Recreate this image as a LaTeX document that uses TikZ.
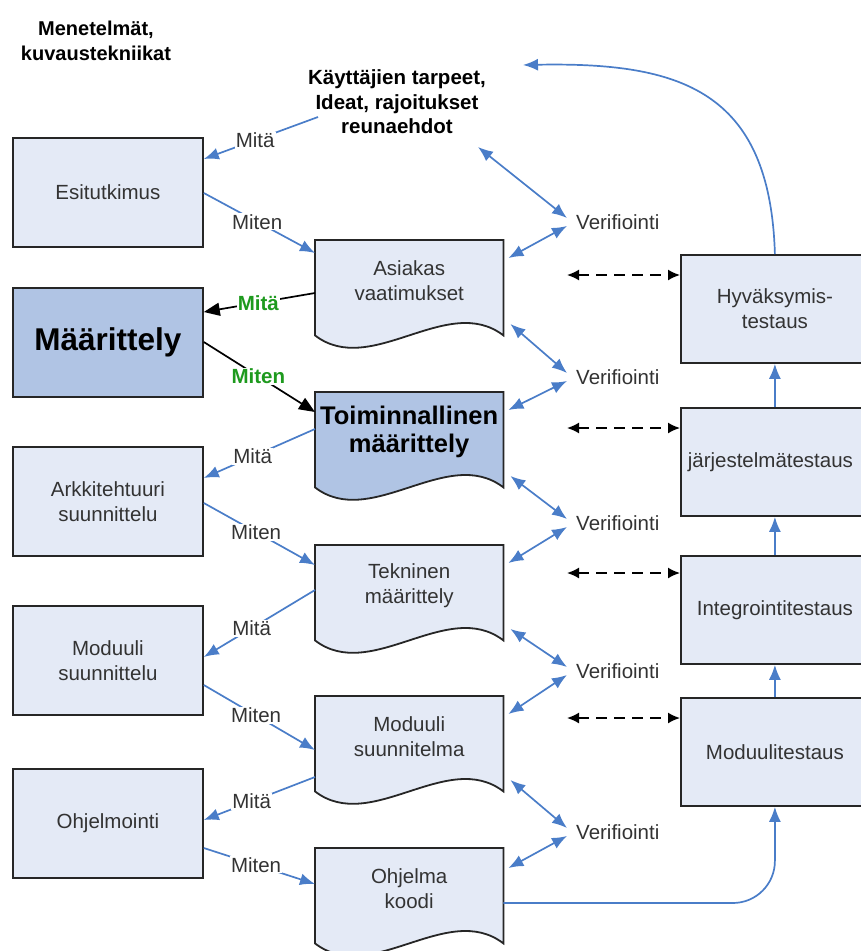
\documentclass[tikz,border=0pt]{standalone}
\usepackage{fontspec}
\setmainfont{Liberation Sans}
\usetikzlibrary{arrows.meta,calc,backgrounds}

\definecolor{boxfill}{HTML}{E4EAF6}
\definecolor{boxdark}{HTML}{B0C4E4}
\definecolor{flowblue}{HTML}{4A7DC8}
\definecolor{labelgreen}{HTML}{1E9A1E}
\definecolor{edge}{HTML}{262626}
\definecolor{txt}{HTML}{333333}

\newcommand\bodyfont{\fontsize{20.5}{25}\selectfont}

% outline of a "document" symbol hung below a named node
\newcommand\docoutline[2][boxfill]{%
  \path[docline, fill=#1] (#2.north west) -- (#2.north east)
    -- ($(#2.south east)+(0,15)$)
    .. controls ($(#2.south east)+(-56,-28)$) and ($(#2.south west)+(56,58)$)
    .. ($(#2.south west)+(0,15)$) -- cycle;}

\tikzset{
  phase/.style={draw=edge, line width=1.8pt, fill=boxfill, minimum width=190pt,
    minimum height=109pt, anchor=north west, inner sep=0pt, align=center,
    text=txt, font=\bodyfont},
  testbox/.style={phase, minimum width=188pt, minimum height=108pt},
  docbox/.style={minimum width=188pt, minimum height=80pt, anchor=north west,
    inner sep=0pt, align=center, text=txt, font=\bodyfont},
  docline/.style={draw=edge, line width=1.8pt},
  how/.style={draw=flowblue, line width=1.7pt, -{Latex[length=15pt,width=12pt]}},
  strong/.style={draw=black, line width=1.7pt, -{Triangle[length=16pt,width=13pt]}},
  howlabel/.style={fill=white, inner sep=1pt, text=txt, font=\bodyfont},
  greenlabel/.style={fill=white, inner sep=1pt, text=labelgreen, font=\bodyfont\bfseries},
  verif/.style={draw=flowblue, line width=1.7pt,
    {Latex[length=15pt,width=12pt]}-{Latex[length=15pt,width=12pt]}},
  verlabel/.style={anchor=west, inner sep=0pt, text=txt, font=\bodyfont},
  trace/.style={draw=black, line width=1.7pt, dash pattern=on 11pt off 7pt,
    {Latex[length=12pt,width=11pt]}-{Latex[length=12pt,width=11pt]}},
}

\begin{document}
\begin{tikzpicture}[x=1pt, y=-1pt]
\useasboundingbox (0,0) rectangle (861,951);

% headings
\node[align=center, font=\fontsize{20}{25.5}\selectfont\bfseries] (methods) at (96,41)
  {Menetelmät,\\kuvaustekniikat};
\node[align=center, font=\fontsize{20.5}{24.5}\selectfont\bfseries] (needs) at (397,102)
  {Käyttäjien tarpeet,\\Ideat, rajoitukset\\reunaehdot};

% design phases (left column)
\node[phase] (esi) at (12,137) {Esitutkimus};
\node[phase, fill=boxdark, text=black, font=\fontsize{31.5}{36}\selectfont\bfseries] (maar) at (12,287) {Määrittely};
\node[phase] (arkk) at (12,446) {Arkkitehtuuri\\suunnittelu};
\node[phase] (modsuun) at (12,605) {Moduuli\\suunnittelu};
\node[phase] (ohj) at (12,768) {Ohjelmointi};

% documents (middle column)
\node[docbox] (asiakas) at (315,240) {Asiakas\\vaatimukset};
\node[docbox, text=black, font=\fontsize{25.5}{28}\selectfont\bfseries] (toim) at (315,392) {Toiminnallinen\\määrittely};
\node[docbox] (tekn) at (315,545) {Tekninen\\määrittely};
\node[docbox] (modsuunn) at (315,696) {Moduuli\\suunnitelma};
\node[docbox] (koodi) at (315,848) {Ohjelma\\koodi};

\begin{scope}[on background layer]
  \docoutline{asiakas}
  \docoutline[boxdark]{toim}
  \docoutline{tekn}
  \docoutline{modsuunn}
  \docoutline{koodi}
\end{scope}

% test phases (right column)
\node[testbox] (hyv) at (680,254) {Hyväksymis-\\testaus};
\node[testbox] (jarj) at (680,407) {\hspace*{-9pt}järjestelmätestaus};
\node[testbox] (integ) at (680,555) {Integrointitestaus};
\node[testbox] (modtest) at (680,697) {Moduulitestaus};

% verification labels
\node[verlabel] (v1) at (576,222) {Verifiointi};
\node[verlabel] (v2) at (576,377) {Verifiointi};
\node[verlabel] (v3) at (576,523) {Verifiointi};
\node[verlabel] (v4) at (576,671) {Verifiointi};
\node[verlabel] (v5) at (576,832) {Verifiointi};

% what / how connectors
\draw[how] ($(needs.center)+(-79,15)$) -- node[howlabel, pos=0.55] (l1) {Mitä} ($(esi.north east)+(0,22)$);
\draw[how] ($(esi.north east)+(0,56)$) -- node[howlabel, pos=0.48] (l2) {Miten} ($(asiakas.north west)+(0,13)$);
\draw[strong] ($(asiakas.north west)+(0,53)$) -- node[greenlabel, pos=0.51] (l3) {Mitä} ($(maar.north east)+(0,25)$);
\draw[strong] ($(maar.north east)+(0,55)$) -- node[greenlabel, pos=0.49] (l4) {Miten} ($(toim.north west)+(0,20)$);
\draw[how] ($(toim.north west)+(0,37)$) -- node[howlabel, pos=0.56] (l5) {Mitä} ($(arkk.north east)+(0,32)$);
\draw[how] ($(arkk.north east)+(0,57)$) -- node[howlabel, pos=0.47] (l6) {Miten} ($(tekn.north west)+(0,20)$);
\draw[how] ($(tekn.north west)+(0,45)$) -- node[howlabel, pos=0.57] (l7) {Mitä} ($(modsuun.north east)+(0,52)$);
\draw[how] ($(modsuun.north east)+(0,80)$) -- node[howlabel, pos=0.47] (l8) {Miten} ($(modsuunn.north west)+(0,54)$);
\draw[how] ($(modsuunn.north west)+(0,81)$) -- node[howlabel, pos=0.57] (l9) {Mitä} ($(ohj.north east)+(0,52)$);
\draw[how] ($(ohj.north east)+(0,80)$) -- node[howlabel, pos=0.47] (l10) {Miten} ($(koodi.north west)+(0,36)$);

% verification connectors
\draw[verif] ($(needs.center)+(81,45)$) -- ($(v1.west)+(-9,-4)$);
\draw[verif] ($(v1.west)+(-9,4)$) -- ($(asiakas.north east)+(5,18)$);
\draw[verif] ($(asiakas.north east)+(7,84)$) -- ($(v2.west)+(-9,-4)$);
\draw[verif] ($(v2.west)+(-9,4)$) -- ($(toim.north east)+(5,18)$);
\draw[verif] ($(toim.north east)+(7,84)$) -- ($(v3.west)+(-9,-4)$);
\draw[verif] ($(v3.west)+(-9,4)$) -- ($(tekn.north east)+(5,18)$);
\draw[verif] ($(tekn.north east)+(7,84)$) -- ($(v4.west)+(-9,-4)$);
\draw[verif] ($(v4.west)+(-9,4)$) -- ($(modsuunn.north east)+(5,18)$);
\draw[verif] ($(modsuunn.north east)+(7,84)$) -- ($(v5.west)+(-9,-4)$);
\draw[verif] ($(v5.west)+(-9,4)$) -- ($(koodi.north east)+(5,20)$);

% validation links between documents and tests
\coordinate (d1) at (567,275);
\coordinate (d2) at (567,428);
\coordinate (d3) at (567,573);
\coordinate (d4) at (567,718);
\draw[trace] (d1) -- (d1 -| hyv.west);
\draw[trace] (d2) -- (d2 -| jarj.west);
\draw[trace] (d3) -- (d3 -| integ.west);
\draw[trace] (d4) -- (d4 -| modtest.west);

% test progression
\draw[how] (modtest.north) -- (integ.south);
\draw[how] (integ.north) -- (jarj.south);
\draw[how] (jarj.north) -- (hyv.south);
\draw[how, rounded corners=42pt] ($(koodi.north east)+(0,55)$) -| (modtest.south);

% feedback to user needs
\coordinate (loopend) at (523,65);
\draw[how] (hyv.north) .. controls (770,90) and (680,62) .. (loopend);
\end{tikzpicture}
\end{document}
